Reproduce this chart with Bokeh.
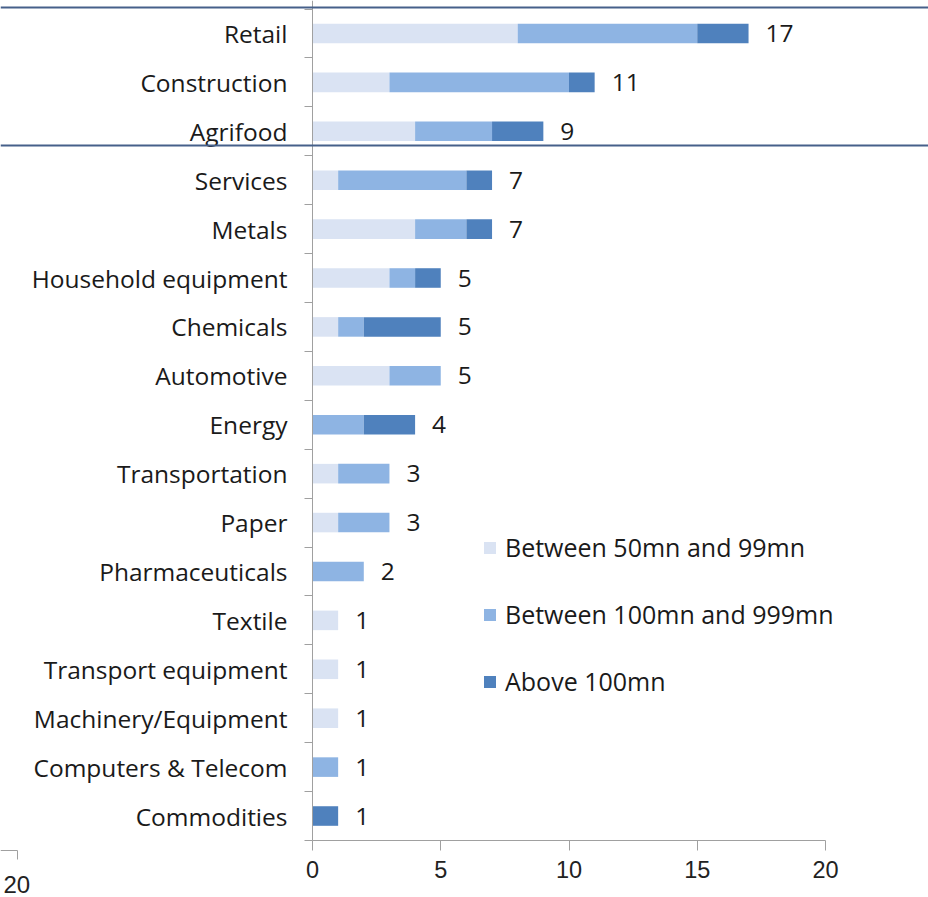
from bokeh.plotting import figure
from bokeh.models import ColumnDataSource, FixedTicker, Span, Legend
from bokeh.core.properties import value
from bokeh.embed import file_html
from bokeh.resources import INLINE

categories = ["Retail", "Construction", "Agrifood", "Services", "Metals",
              "Household equipment", "Chemicals", "Automotive", "Energy",
              "Transportation", "Paper", "Pharmaceuticals", "Textile",
              "Transport equipment", "Machinery/Equipment", "Computers & Telecom",
              "Commodities"]
between_50_99 = [8, 3, 4, 1, 4, 3, 1, 3, 0, 1, 1, 0, 1, 1, 1, 0, 0]
between_100_999 = [7, 7, 3, 5, 2, 1, 1, 2, 2, 2, 2, 2, 0, 0, 0, 1, 0]
above_100 = [2, 1, 2, 1, 1, 1, 3, 0, 2, 0, 0, 0, 0, 0, 0, 0, 1]
series_names = ["Between 50mn and 99mn", "Between 100mn and 999mn", "Above 100mn"]
x_ticks = [0, 5, 10, 15, 20]
stray_label = ["20"]

colors = ["#dae3f3", "#8eb4e3", "#4f81bd"]
FONT = "Open Sans"
NUMFONT = "Liberation Sans"

W, H = 928, 897
PX_X = 25.65   # pixels per x unit
PX_Y = 48.91   # pixels per category
X0 = 312       # pixel of x = 0
YTOP = 8.5     # pixel of y = 16.5

n = len(categories)
ypos = [n - 1 - i for i in range(n)]
totals = [a + b + c for a, b, c in zip(between_50_99, between_100_999, above_100)]

source = ColumnDataSource(dict(
    y=ypos, cat=categories, s1=between_50_99, s2=between_100_999, s3=above_100,
    total=totals, label=[str(t) for t in totals]))

def px2x(px):
    return (px - X0) / PX_X

def px2y(py):
    return 16.5 - (py - YTOP) / PX_Y

p = figure(width=W, height=H, output_backend="svg", toolbar_location=None,
           x_range=(px2x(0), px2x(W)), y_range=(px2y(H), px2y(0)),
           min_border_left=0, min_border_right=0, min_border_top=0, min_border_bottom=0)
p.outline_line_color = None
p.xgrid.visible = False
p.ygrid.visible = False
p.background_fill_color = "white"

renderers = p.hbar_stack(["s1", "s2", "s3"], y="y", height=0.4, color=colors,
                         line_color=None, source=source)

p.text(x="total", y="y", text="label", source=source, x_offset=17,
       text_align="left", text_baseline="middle", text_font_size="24.5px",
       text_color="#1a1a1a", text_font=value(FONT))

# stray axis remnant at the bottom-left of the original picture
p.line(x=[px2x(0), px2x(17), px2x(17)], y=[px2y(850), px2y(850), px2y(859)],
       line_color="#a0a0a0", line_width=1)
p.text(x=[px2x(3)], y=[px2y(884)], text=stray_label, text_align="left",
       text_baseline="middle", text_font=value(NUMFONT), text_font_size="24px",
       text_color="#222222")

# x axis at the bottom of the bars
xa = p.xaxis[0]
xa.fixed_location = -0.5
xa.ticker = FixedTicker(ticks=x_ticks)
xa.bounds = (0, 20)
xa.axis_line_color = "#a0a0a0"
xa.major_tick_line_color = "#a0a0a0"
xa.major_tick_out = 10
xa.major_tick_in = 0
xa.minor_tick_line_color = None
xa.major_label_standoff = 11
xa.major_label_text_font = NUMFONT
xa.major_label_text_font_size = "23.5px"
xa.major_label_text_color = "#222222"

# y axis at x=0, ticks between categories
ya = p.yaxis[0]
ya.fixed_location = 0
ya.bounds = (-0.5, px2y(0))
ya.ticker = FixedTicker(ticks=ypos, minor_ticks=[v - 0.5 for v in range(n + 1)])
ya.major_label_overrides = {y: c for y, c in zip(ypos, categories)}
ya.axis_line_color = "#a0a0a0"
ya.major_tick_line_color = None
ya.major_tick_out = 0
ya.major_tick_in = 0
ya.minor_tick_line_color = "#a0a0a0"
ya.minor_tick_out = 8
ya.minor_tick_in = 0
ya.major_label_standoff = 17
ya.major_label_text_font = FONT
ya.major_label_text_font_size = "24.5px"
ya.major_label_text_color = "#1a1a1a"

for py in [7, 145]:
    p.add_layout(Span(location=px2y(py), dimension="width", line_color="#46608a", line_width=2))

legend = Legend(items=[(nm, [r]) for nm, r in zip(series_names, renderers)],
                location=(482, 198), orientation="vertical",
                glyph_width=15, glyph_height=15, label_height=36, spacing=31,
                label_standoff=8, padding=0, margin=0,
                border_line_color=None, background_fill_alpha=0,
                label_text_font=FONT, label_text_font_size="25px",
                label_text_color="#1a1a1a")
p.add_layout(legend, "center")

open("out.html", "w").write(file_html(p, INLINE))
